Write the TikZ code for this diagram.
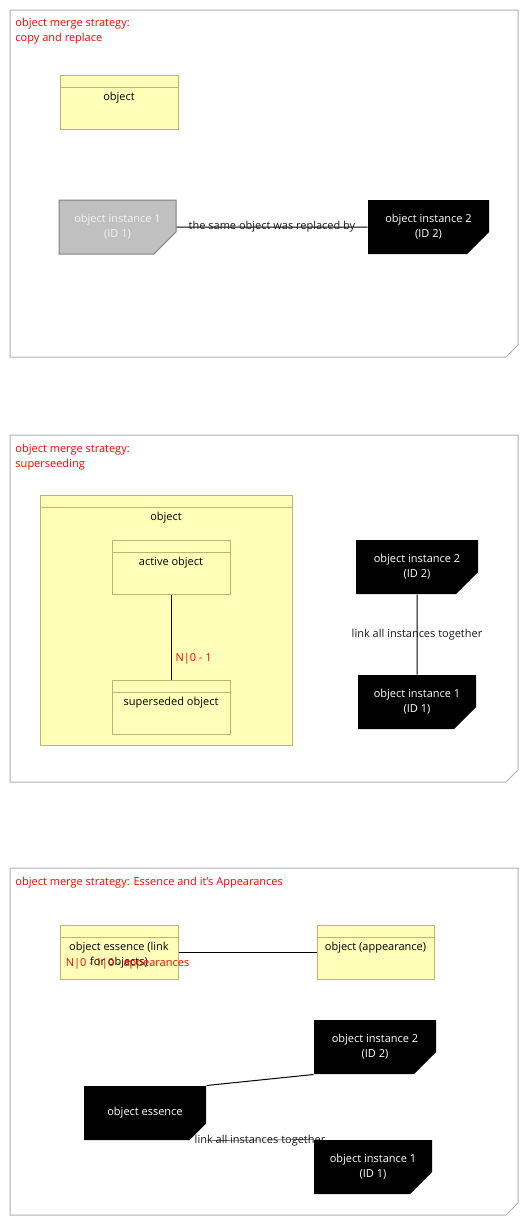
\documentclass[tikz,border=0pt]{standalone}
\usepackage{fontspec}
\setmainfont{Open Sans}
\usetikzlibrary{shapes.misc,backgrounds}
\definecolor{clsfill}{HTML}{FFFFB9}
\definecolor{clsborder}{HTML}{BDB46E}
\definecolor{framegray}{HTML}{B0B0B0}
\definecolor{ghostfill}{HTML}{C0C0C0}
\definecolor{ghostborder}{HTML}{808080}
\definecolor{ghosttext}{HTML}{F2F2F2}
\definecolor{notered}{HTML}{FF0000}
\newcommand{\uifont}{\fontsize{11}{15}\selectfont}
\tikzstyle{every picture}+=[x=1pt,y=-1pt]
\tikzstyle{every picture}+=[line width=1pt]
\tikzstyle{every node}+=[font=\uifont]
\tikzstyle{panelframe}=[draw=framegray]
\tikzstyle{title}=[text=notered, anchor=base west, align=left, inner sep=0pt]
\tikzstyle{cls}=[rectangle, draw=clsborder, fill=clsfill, align=center]
\tikzstyle{cls}+=[inner sep=3pt, minimum width=118pt, text height=22pt, text depth=26pt]
\tikzstyle{cls}+=[path picture={\draw[clsborder] ([yshift=-12pt]path picture bounding box.north west) -- ([yshift=-12pt]path picture bounding box.north east);}]
\tikzstyle{inst}=[chamfered rectangle, chamfered rectangle corners=south east]
\tikzstyle{inst}+=[chamfered rectangle xsep=11pt, chamfered rectangle ysep=11pt]
\tikzstyle{inst}+=[fill=black, text=white, align=center, inner sep=0pt]
\tikzstyle{inst}+=[minimum width=121pt, minimum height=54pt]
\tikzstyle{ghost}=[inst, fill=ghostfill, draw=ghostborder, text=ghosttext]
\tikzstyle{lbl}=[text=black!90, inner sep=1pt]
\tikzstyle{card}=[text=notered, inner sep=0pt]

\begin{document}
\begin{tikzpicture}
\useasboundingbox (0,0) rectangle (529,1226);

% copy and replace
\draw[panelframe] (10,10) -- (518,10) -- (518,345) -- (506,357) -- (10,357) -- cycle;
\node[title] (t1) at (15,41) {object merge strategy:\\copy and replace};
\node[cls] (obj1) at (119,102) {object};
\node[ghost, minimum width=117pt] (inst1a) at (117.5,227) {object instance 1\\(ID 1)};
\node[inst] (inst2a) at (428.5,227) {object instance 2\\(ID 2)};

\path[draw]
   (inst1a) edge node[lbl] {the same object was replaced by} (inst2a)
;

% superseeding
\draw[panelframe] (10,435) -- (518,435) -- (518,770) -- (506,782) -- (10,782) -- cycle;
\node[title] (t2) at (15,467) {object merge strategy:\\superseeding};
\node[cls, minimum width=252pt, text depth=222pt] (obj2) at (166,620) {object};
\node[cls] (active) at (171,567) {active object};
\node[cls] (superseded) at (171,707) {superseded object};
\node[inst, minimum width=122pt] (inst2b) at (417,567) {object instance 2\\(ID 2)};
\node[inst, minimum width=118pt] (inst1b) at (417,702) {object instance 1\\(ID 1)};

\path[draw]
   (active) edge node[card, pos=.75, anchor=west, xshift=4pt] {N|0 - 1} (superseded)
   (inst2b) edge node[lbl] {link all instances together} (inst1b)
;

% essence and appearances
\draw[panelframe] (10,868) -- (518,868) -- (518,1203) -- (506,1215) -- (10,1215) -- cycle;
\node[title] (t3) at (15,885) {object merge strategy: Essence and it's Appearances};
\node[cls, text height=37pt, text depth=11pt] (essence) at (119,952) {object essence (link\\for objects)};
\node[cls, minimum width=117pt] (appearance) at (375.5,952) {object (appearance)};
\node[inst, minimum width=122pt] (inst2c) at (375,1047) {object instance 2\\(ID 2)};
\node[inst, minimum width=122pt] (essinst) at (145,1113) {object essence};
\node[inst, minimum width=118pt] (inst1c) at (373,1167) {object instance 1\\(ID 1)};

\path[draw]
   (essence) edge node[card, pos=0, xshift=-51pt, yshift=-12pt] {N|0 - 1|0 - appearances} (appearance)
   (essinst.north east) edge (inst2c.south west)
;
\begin{scope}[on background layer]
\path[draw]
   (essinst.south -| essinst.east) edge node[lbl, yshift=-1pt] {link all instances together} (inst1c.north west)
;
\end{scope}
\end{tikzpicture}
\end{document}
